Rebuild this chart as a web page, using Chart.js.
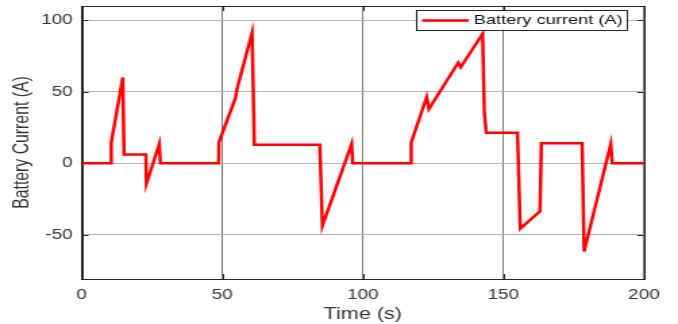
<!DOCTYPE html>
<html>
<head>
<meta charset="utf-8">
<script src="https://cdn.jsdelivr.net/npm/chart.js@4.4.0/dist/chart.umd.min.js"></script>
<style>
  html, body { margin: 0; padding: 0; background: #fff; }
  #myChart { display: block; width: 678px; height: 324px; }
</style>
</head>
<body>
<!-- drawn narrower and stretched by css, like the squeezed source image -->
<canvas id="myChart" width="502" height="324" style="width:678px;height:324px"></canvas>
<script>
// time (s) and battery current (A)
let times = [0, 10.4, 10.5, 14.6, 15.05, 22.8, 23.0, 27.6, 28.0, 48.7, 48.8, 54.7, 55.3, 60.6, 61.4,
    84.7, 85.6, 96.0, 96.4, 117.0, 117.2, 122.7, 123.5, 133.9, 134.8, 142.6, 143.2, 143.9,
    155.0, 156.0, 163.0, 163.5, 178.0, 178.7, 188.2, 188.7, 200];
let current = [0, 0, 14.4, 60, 6.1, 6.1, -14.4, 13.5, 0, 0, 14.6, 45.7, 52.5, 91.3, 13,
    13, -43.8, 13.5, 0, 0, 14.6, 46.2, 38, 70.3, 67.2, 90.6, 35, 21.3,
    21.3, -45.7, -33.6, 13.9, 13.9, -61.8, 13.6, 0, 0];
let xTicks = [0, 50, 100, 150, 200];
let yTicks = [-50, 0, 50, 100];
let seriesName = 'Battery current (A)';

let points = times.map((t, i) => ({x: t, y: current[i]}));
let font = 'Liberation Sans, Arial, sans-serif';

// box round the plot, inward tick marks, legend in the corner
let boxPlugin = {
    id: 'box',
    beforeDatasetsDraw(chart) {
        let c = chart.ctx, a = chart.chartArea;
        c.save();
        c.strokeStyle = '#262626';
        c.lineWidth = 1;
        c.beginPath();
        chart.scales.y.ticks.forEach(t => {
            let py = Math.round(chart.scales.y.getPixelForValue(t.value)) + 0.5;
            c.moveTo(a.left, py); c.lineTo(a.left + 5, py);
            c.moveTo(a.right, py); c.lineTo(a.right - 5, py);
        });
        chart.scales.x.ticks.forEach(t => {
            let px = Math.round(chart.scales.x.getPixelForValue(t.value)) + 0.5;
            c.moveTo(px, a.bottom); c.lineTo(px, a.bottom - 5);
            c.moveTo(px, a.top); c.lineTo(px, a.top + 5);
        });
        c.stroke();
        c.strokeRect(Math.round(a.left) + 0.5, Math.round(a.top) + 0.5,
            Math.round(a.right - a.left), Math.round(a.bottom - a.top));
        c.restore();
    },
    afterDraw(chart) {
        let c = chart.ctx, a = chart.chartArea;
        let ds = chart.data.datasets[0];
        c.save();
        c.font = '13.5px ' + font;
        let tw = c.measureText(ds.label).width;
        let right = a.right - 12.3;
        let w = 4.2 + 34.5 + 3.7 + tw + 3.5;
        let left = right - w;
        let top = a.top + 4.3, h = 19.5;
        c.fillStyle = '#fff';
        c.fillRect(left, top, w, h);
        c.strokeStyle = '#262626';
        c.lineWidth = 1;
        c.strokeRect(Math.round(left) + 0.5, Math.round(top) + 0.5, Math.round(w), Math.round(h));
        c.strokeStyle = ds.borderColor;
        c.lineWidth = 2.5;
        c.beginPath();
        c.moveTo(left + 4.2, top + h / 2 + 0.5);
        c.lineTo(left + 4.2 + 34.5, top + h / 2 + 0.5);
        c.stroke();
        c.fillStyle = '#111';
        c.textBaseline = 'middle';
        c.fillText(ds.label, left + 4.2 + 34.5 + 3.7, top + h / 2 + 0.5);
        c.restore();
    }
};

var ctx = document.getElementById('myChart');
var myChart = new Chart(ctx, {
    type: 'line',
    data: {
        datasets: [{
            label: seriesName,
            data: points,
            borderColor: '#ff0000',
            borderWidth: 2.5,
            pointRadius: 0,
            tension: 0,
            fill: false
        }]
    },
    options: {
        responsive: false,
        animation: false,
        layout: { padding: { top: 6, right: 25.2, left: 0, bottom: 0 } },
        plugins: {
            legend: { display: false },
            tooltip: { enabled: false }
        },
        scales: {
            x: {
                type: 'linear',
                min: 0,
                max: 200,
                afterFit: s => {
                    s.height = 45;
                    s.paddingLeft = 0; s.paddingRight = 0;
                },
                afterBuildTicks: s => { s.ticks = xTicks.map(v => ({value: v})); },
                grid: { color: '#7a7a7a', drawTicks: false },
                border: { color: '#262626' },
                ticks: { color: '#333', padding: 8, font: { family: font, size: 14 } },
                title: {
                    display: true,
                    text: 'Time (s)',
                    color: '#333',
                    padding: { top: 0, bottom: 0 },
                    font: { family: font, size: 16 }
                }
            },
            y: {
                min: -81,
                max: 110,
                afterFit: s => {
                    s.width = 60.5;
                    s.paddingTop = 0; s.paddingBottom = 0;
                },
                afterBuildTicks: s => { s.ticks = yTicks.map(v => ({value: v})); },
                grid: { color: '#b4b4b4', drawTicks: false },
                border: { color: '#262626' },
                ticks: { color: '#333', padding: 6.7, font: { family: font, size: 14 } },
                title: {
                    display: true,
                    text: 'Battery Current (A)',
                    color: '#333',
                    padding: { top: 7.5, bottom: 0 },
                    font: { family: font, size: 15.8 }
                }
            }
        }
    },
    plugins: [boxPlugin]
});
</script>
</body>
</html>
